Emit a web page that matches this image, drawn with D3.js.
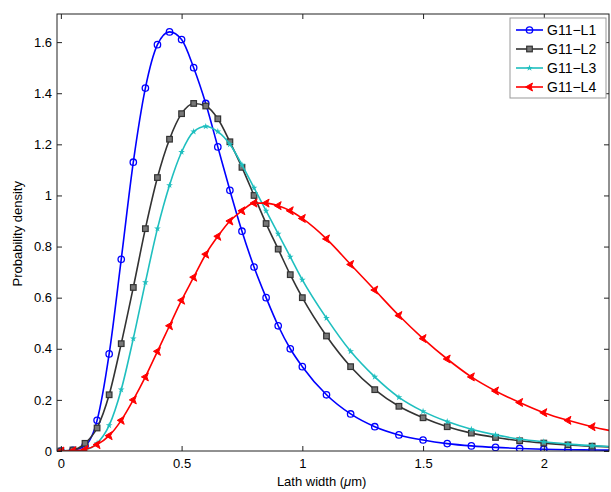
<!DOCTYPE html>
<html><head><meta charset="utf-8">
<script src="https://cdn.jsdelivr.net/npm/d3@7"></script>
<style>body{margin:0;background:#fff}text{font-family:"Liberation Sans",Arial,sans-serif}</style>
</head><body>
<script>
var xs = [0,0.05,0.1,0.15,0.2,0.25,0.3,0.35,0.4,0.45,0.5,0.55,0.6,0.65,0.7,0.75,0.8,0.85,0.9,0.95,1.0,1.1,1.2,1.3,1.4,1.5,1.6,1.7,1.8,1.9,2.0,2.1,2.2,2.3];
var l1 = [0,0.003,0.02,0.12,0.38,0.75,1.13,1.42,1.59,1.64,1.61,1.50,1.36,1.19,1.02,0.86,0.72,0.60,0.49,0.40,0.33,0.22,0.145,0.095,0.063,0.043,0.029,0.02,0.014,0.01,0.007,0.005,0.004,0.003];
var l2 = [0,0.004,0.03,0.09,0.22,0.42,0.64,0.87,1.07,1.22,1.32,1.36,1.35,1.30,1.21,1.11,1.00,0.89,0.79,0.69,0.60,0.45,0.33,0.24,0.175,0.13,0.095,0.07,0.053,0.04,0.031,0.024,0.019,0.015];
var l3 = [0,0,0.005,0.03,0.1,0.24,0.44,0.66,0.87,1.04,1.17,1.25,1.27,1.25,1.20,1.12,1.03,0.94,0.85,0.76,0.67,0.52,0.39,0.29,0.21,0.155,0.115,0.085,0.063,0.047,0.036,0.027,0.021,0.016];
var l4 = [0,0.001,0.006,0.025,0.06,0.12,0.2,0.29,0.39,0.49,0.59,0.68,0.77,0.84,0.9,0.94,0.97,0.97,0.96,0.94,0.91,0.83,0.73,0.63,0.53,0.44,0.36,0.29,0.235,0.19,0.15,0.12,0.095,0.075];
var names = ["G11\u2212L1","G11\u2212L2","G11\u2212L3","G11\u2212L4"];
var xTicks = [0,0.5,1,1.5,2];
var yTicks = [0,0.2,0.4,0.6,0.8,1,1.2,1.4,1.6];

var W = 611, H = 492, m = {l: 57, t: 14, r: 2, b: 41};
var colors = ["#0000ff","#333333","#1fbfbf","#ff0000"];
var series = [l1,l2,l3,l4];

var svg = d3.select("body").append("svg").attr("width", W).attr("height", H);
var x = d3.scaleLinear().domain([-0.016, 2.27]).range([m.l, W - m.r]);
var y = d3.scaleLinear().domain([0, 1.71]).range([H - m.b, m.t]);

var clip = svg.append("clipPath").attr("id","c").append("rect")
  .attr("x", m.l).attr("y", m.t).attr("width", W - m.r - m.l).attr("height", H - m.b - m.t);
var g = svg.append("g").attr("clip-path","url(#c)");

var line = d3.line().curve(d3.curveMonotoneX).x(function(d){return x(d[0]);}).y(function(d){return y(d[1]);});

function marker(sel, i, c) {
  if (i == 0) sel.append("circle").attr("r",3.2).attr("fill","none").attr("stroke",c).attr("stroke-width",1.3);
  else if (i == 1) sel.append("rect").attr("x",-2.8).attr("y",-2.8).attr("width",5.6).attr("height",5.6).attr("fill","#777").attr("stroke",c).attr("stroke-width",1.2);
  else if (i == 2) sel.append("path").attr("d",d3.symbol(d3.symbolStar,14)()).attr("fill",c);
  else sel.append("path").attr("d","M-4,0L3,-4L1.5,0L3,4Z").attr("fill",c).attr("stroke",c);
}

series.forEach(function(s, i) {
  var pts = xs.map(function(v, k){return [v, s[k]];});
  g.append("path").attr("d", line(pts)).attr("fill","none").attr("stroke",colors[i]).attr("stroke-width",1.6);
  pts.forEach(function(p) {
    var mk = g.append("g").attr("transform","translate(" + x(p[0]) + "," + y(p[1]) + ")");
    marker(mk, i, colors[i]);
  });
});

// frame and axes
svg.append("rect").attr("x", m.l).attr("y", m.t).attr("width", W - m.r - m.l).attr("height", H - m.b - m.t)
  .attr("fill","none").attr("stroke","#222").attr("stroke-width",1);
var xa = svg.append("g").attr("transform","translate(0," + (H - m.b) + ")")
  .call(d3.axisBottom(x).tickValues(xTicks).tickSize(-5).tickPadding(8).tickFormat(d3.format("")));
var xt = svg.append("g").attr("transform","translate(0," + m.t + ")")
  .call(d3.axisTop(x).tickValues(xTicks).tickSize(-5).tickFormat(""));
var ya = svg.append("g").attr("transform","translate(" + m.l + ",0)")
  .call(d3.axisLeft(y).tickValues(yTicks).tickSize(-5).tickPadding(5).tickFormat(d3.format("")));
var yr = svg.append("g").attr("transform","translate(" + (W - m.r) + ",0)")
  .call(d3.axisRight(y).tickValues(yTicks).tickSize(-5).tickFormat(""));
[xa,xt,ya,yr].forEach(function(a){
  a.select(".domain").remove();
  a.selectAll("line").attr("stroke","#222");
  a.selectAll("text").attr("font-size",13).attr("fill","#000");
});

svg.append("text").attr("x", x(1.08)).attr("y", H - 6).attr("text-anchor","middle").attr("font-size",13)
  .html("Lath width (<tspan font-style='italic'>\u03bc</tspan>m)");
svg.append("text").attr("transform","translate(22," + y(0.85) + ") rotate(-90)").attr("text-anchor","middle")
  .attr("font-size",13).text("Probability density");

// legend
var lg = svg.append("g").attr("transform","translate(510,18)");
lg.append("rect").attr("width",96).attr("height",80).attr("fill","#fff").attr("stroke","#999");
names.forEach(function(n, i) {
  var row = lg.append("g").attr("transform","translate(0," + (12 + i * 19) + ")");
  row.append("line").attr("x1",6).attr("x2",33).attr("stroke",colors[i]).attr("stroke-width",1.6);
  marker(row.append("g").attr("transform","translate(19.5,0)"), i, colors[i]);
  row.append("text").attr("x",37).attr("y",5).attr("font-size",14).text(n);
});
</script>
</body></html>
